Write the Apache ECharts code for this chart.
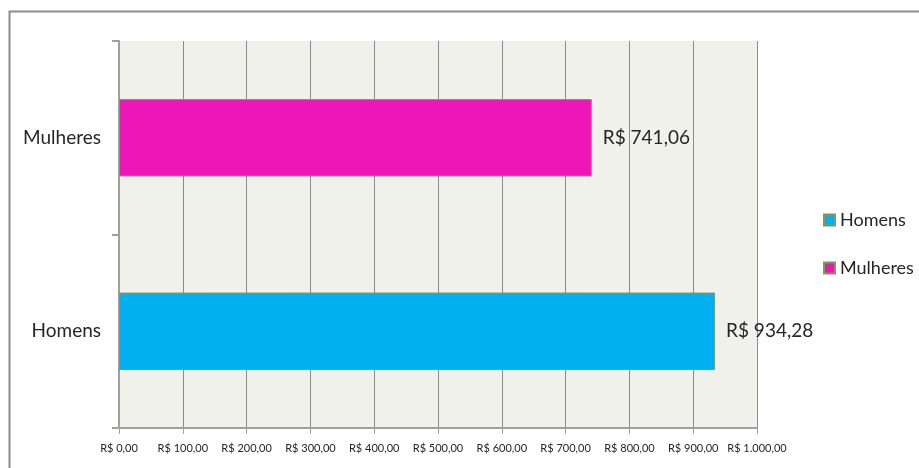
<!DOCTYPE html>
<html>
<head>
<meta charset="utf-8">
<script src="https://cdn.jsdelivr.net/npm/echarts@6/dist/echarts.min.js"></script>
<style>
  html, body { margin: 0; padding: 0; background: #fff; }
  #chart { width: 919px; height: 468px; }
</style>
</head>
<body>
<div id="chart"></div>
<script>
// Média salarial por sexo
const categories = ['Homens', 'Mulheres'];
const seriesNames = ['Homens', 'Mulheres'];
const values = [934.28, 741.06];
const colors = ['#00B0F0', '#EF16B8'];
const axisMin = 0, axisMax = 1000, axisStep = 100;

const fmtBRL = v => {
  const parts = v.toFixed(2).split('.');
  const intPart = parts[0].replace(/\B(?=(\d{3})+(?!\d))/g, '.');
  return 'R$ ' + intPart + ',' + parts[1];
};

const FONT = 'Lato';
const TEXT = '#262626';

const series = seriesNames.map((name, i) => ({
  name: name,
  type: 'bar',
  stack: 'media',
  barWidth: '40%',
  data: categories.map((c, j) => (j === i ? values[i] : '-')),
  itemStyle: { color: colors[i], borderColor: '#7f9a5c', borderWidth: 1 },
  label: {
    show: true,
    position: 'right',
    distance: 11,
    formatter: p => fmtBRL(p.value),
    color: TEXT,
    fontFamily: FONT,
    fontSize: 19
  }
}));

const chart = echarts.init(document.getElementById('chart'), null, { renderer: 'canvas' });
chart.setOption({
  animation: false,
  backgroundColor: '#ffffff',
  graphic: [{
    type: 'rect',
    shape: { x: 9.5, y: 11.5, width: 1000, height: 1000 },
    style: { fill: 'none', stroke: '#8c8c8c', lineWidth: 2 },
    z: 100
  }],
  grid: {
    left: 119, top: 41, width: 638, height: 387,
    show: true, backgroundColor: '#EFF1EA', borderWidth: 0
  },
  legend: {
    orient: 'vertical',
    left: 818, top: 206,
    itemWidth: 11, itemHeight: 11, itemGap: 30,
    icon: 'rect',
    textStyle: { color: TEXT, fontFamily: FONT, fontSize: 18 },
    data: seriesNames
  },
  xAxis: {
    type: 'value',
    min: axisMin, max: axisMax, interval: axisStep,
    axisLine: { show: true, lineStyle: { color: '#a0a0a0', width: 2 } },
    axisTick: { show: true, length: 6, lineStyle: { color: '#a0a0a0' } },
    splitLine: { show: true, lineStyle: { color: '#8c8c8c', width: 1 } },
    axisLabel: { color: TEXT, fontFamily: FONT, fontSize: 11, margin: 15, formatter: v => fmtBRL(v) }
  },
  yAxis: {
    type: 'category',
    data: categories,
    axisLine: { show: true, lineStyle: { color: '#a0a0a0', width: 2 } },
    axisTick: { show: true, length: 7, lineStyle: { color: '#a0a0a0', width: 2 } },
    axisLabel: { color: TEXT, fontFamily: FONT, fontSize: 19, margin: 18 }
  },
  series: series
});
</script>
</body>
</html>
